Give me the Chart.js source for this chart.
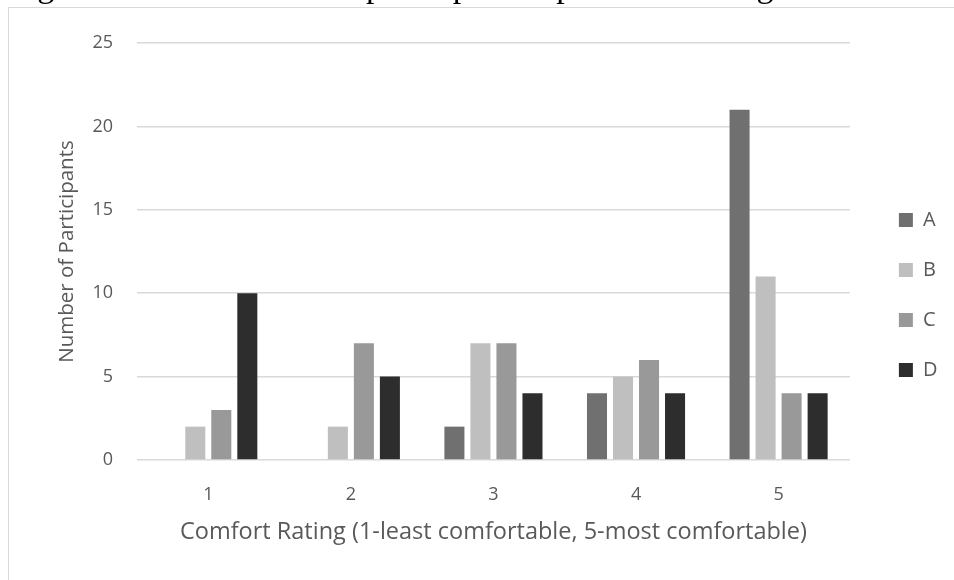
<!DOCTYPE html>
<html>
<head>
<meta charset="utf-8">
<script src="https://cdn.jsdelivr.net/npm/chart.js@4.4.1/dist/chart.umd.min.js"></script>
<style>
  html, body { margin: 0; padding: 0; background: #ffffff; overflow: hidden; }
  #wrap { position: relative; width: 954px; height: 580px; overflow: hidden; }
  #c { position: absolute; left: 0; top: 0; }
  #frame { position: absolute; left: 8px; top: 7px; width: 1000px; height: 600px;
           border: 1px solid #d9d9d9; box-sizing: border-box; pointer-events: none; }
  #caption { position: absolute; left: 9px; top: -31px; white-space: nowrap;
             font-family: "Liberation Serif", "Times New Roman", serif; font-size: 34px;
             line-height: 34px; color: #000; }
</style>
</head>
<body>
<div id="wrap">
  <canvas id="c" width="954" height="580"></canvas>
  <div id="frame"></div>
  <div id="caption">Figure 6. Results from all participants' opinions on weight</div>
</div>
<script>
const categories = ['1', '2', '3', '4', '5'];
const seriesNames = ['A', 'B', 'C', 'D'];
const seriesA = [0, 0, 2, 4, 21];
const seriesB = [2, 2, 7, 5, 11];
const seriesC = [3, 7, 7, 6, 4];
const seriesD = [10, 5, 4, 4, 4];
const yTicks = [0, 5, 10, 15, 20, 25];
const colors = ['#707070', '#bfbfbf', '#999999', '#2d2d2d'];

const textColor = '#595959';
const gridColor = '#d9d9d9';
const fam = '"Open Sans", "Noto Sans", sans-serif';

const values = [seriesA, seriesB, seriesC, seriesD];
const datasets = seriesNames.map((n, i) => ({
  label: n,
  data: values[i],
  backgroundColor: colors[i],
  borderWidth: 0,
  xAxisID: 'x',
  yAxisID: 'y',
  categoryPercentage: 0.73,
  barPercentage: 0.77
}));

new Chart(document.getElementById('c'), {
  type: 'bar',
  data: { labels: categories, datasets },
  options: {
    responsive: false,
    animation: false,
    events: [],
    layout: { padding: { left: 0, right: 6.6, top: 10, bottom: 0 } },
    plugins: {
      title: { display: false },
      tooltip: { enabled: false },
      legend: {
        display: true,
        position: 'right',
        align: 'center',
        labels: {
          boxWidth: 14,
          boxHeight: 14,
          padding: 30,
          color: textColor,
          font: { family: fam, size: 20 }
        }
      }
    },
    scales: {
      x: {
        position: 'bottom',
        grid: { display: false },
        border: { display: false },
        ticks: { color: textColor, font: { family: fam, size: 18 }, padding: 16 },
        title: {
          display: true,
          text: 'Comfort Rating (1-least comfortable, 5-most comfortable)',
          color: textColor,
          font: { family: fam, size: 23.5 },
          padding: { top: 0, bottom: 34 }
        },
        afterFit: s => { s.height = 120; }
      },
      xTop: {
        type: 'category',
        position: 'top',
        display: true,
        grid: { display: false },
        border: { display: false },
        ticks: { display: false },
        afterFit: s => { s.height = 33; }
      },
      y: {
        position: 'left',
        min: 0,
        max: 25,
        afterBuildTicks: s => { s.ticks = yTicks.map(v => ({ value: v })); },
        grid: { color: gridColor, lineWidth: 1.5, drawTicks: false },
        border: { display: false },
        ticks: { color: textColor, font: { family: fam, size: 18 }, padding: 24 },
        title: {
          display: true,
          text: 'Number of Participants',
          color: textColor,
          font: { family: fam, size: 20.5 },
          padding: { top: 55, bottom: 0 }
        },
        afterFit: s => { s.width = 137; }
      },
      yRight: {
        type: 'linear',
        position: 'right',
        display: true,
        grid: { display: false },
        border: { display: false },
        ticks: { display: false },
        afterFit: s => { s.width = 19; }
      }
    }
  }
});
</script>
</body>
</html>
